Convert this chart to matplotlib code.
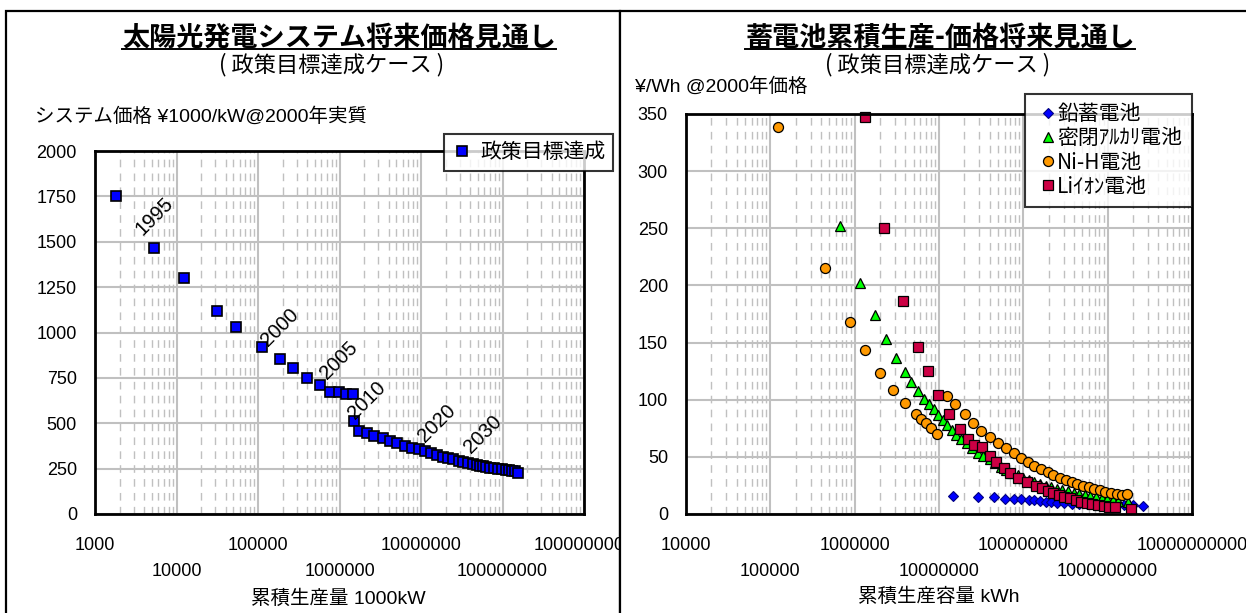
import numpy as np
import matplotlib
matplotlib.use("Agg")
import matplotlib.pyplot as plt
from matplotlib.patches import Rectangle
from matplotlib.lines import Line2D
from matplotlib.ticker import FixedLocator, LogLocator, NullFormatter, NullLocator

W, H = 1246, 613
LATIN = ['Liberation Sans', 'Noto Sans CJK JP']
JP = ['Noto Sans CJK JP', 'Liberation Sans']
plt.rcParams['font.family'] = LATIN

# ---- Photovoltaic system price outlook (policy target case) ----
pv_years = list(range(1994, 2041))
pv_cum = [1.80e3, 5.3e3, 1.23e4, 3.1e4, 5.4e4, 1.13e5, 1.85e5, 2.7e5, 4.0e5, 5.75e5,
          7.7e5, 9.9e5, 1.2e6, 1.45e6, 1.5e6, 1.75e6, 2.16e6, 2.65e6, 3.39e6, 4.17e6,
          5.12e6, 6.42e6, 7.76e6, 9.37e6, 1.13e7, 1.32e7, 1.56e7, 1.85e7, 2.13e7, 2.49e7,
          2.90e7, 3.30e7, 3.80e7, 4.31e7, 4.82e7, 5.30e7, 5.71e7, 6.28e7, 7.03e7, 7.87e7,
          8.81e7, 9.86e7, 1.09e8, 1.20e8, 1.31e8, 1.42e8, 1.56e8]
pv_price = [1750, 1467, 1300, 1120, 1032, 921, 853, 805, 752, 712,
            672, 670, 662, 662, 515, 459, 448, 429, 417, 404,
            389, 376, 365, 356, 345, 337, 326, 315, 308, 302,
            293, 287, 280, 274, 269, 265, 263, 259, 256, 253,
            250, 247, 244, 241, 238, 236, 226]
pv_label_years = [1995, 2000, 2005, 2010, 2020, 2030]

# ---- Battery cumulative production vs price ----
lead_x = [1.466e7, 2.88e7, 4.55e7, 6.0e7, 7.73e7, 9.48e7, 1.164e8, 1.356e8, 1.58e8, 1.84e8,
          2.14e8, 2.50e8, 3.06e8, 3.76e8, 4.60e8, 5.65e8, 6.93e8, 8.49e8, 1.04e9, 1.28e9,
          1.57e9, 2.02e9, 2.61e9]
lead_y = [15.7, 14.6, 14.6, 13.1, 13.1, 13.1, 12.2, 12.2, 11.4, 10.8,
          10.2, 9.6, 9.3, 9.0, 8.75, 8.5, 8.2, 7.9, 7.9, 7.6, 7.6, 7.6, 7.3]

alk_x = [6.74e5, 1.159e6, 1.742e6, 2.365e6, 3.11e6, 3.94e6, 4.69e6, 5.57e6, 6.70e6, 7.64e6,
         8.63e6, 9.75e6, 1.114e7, 1.233e7, 1.41e7, 1.59e7, 1.82e7, 2.12e7, 2.47e7, 2.88e7,
         3.35e7, 3.98e7, 4.65e7, 5.41e7, 6.31e7, 7.35e7, 8.57e7, 1.0e8, 1.164e8, 1.356e8,
         1.58e8, 1.84e8, 2.14e8, 2.50e8, 2.91e8, 3.39e8, 3.95e8, 4.60e8, 5.37e8, 6.25e8,
         7.29e8, 8.49e8, 9.89e8, 1.15e9, 1.34e9, 1.73e9]
alk_y = [252, 201.8, 174, 153.4, 136.8, 124.5, 115.2, 108, 100.6, 96.3,
         91.6, 86.6, 82.3, 77.9, 73.5, 69.1, 65.3, 61.8, 57.5, 53.7,
         50.8, 47.8, 44.3, 41.4, 38.5, 36.2, 33.8, 31.5, 29.7, 28,
         26.2, 24.8, 23.3, 22.2, 21, 19.8, 18.7, 17.8, 16.9, 16,
         15.2, 14.3, 13.4, 12.5, 11.7, 10.8]

nih_x = [1.227e5, 4.395e5, 8.79e5, 1.31e6, 2.01e6, 2.84e6, 3.90e6, 5.35e6, 6.17e6, 7.05e6,
         7.96e6, 9.57e6, 1.233e7, 1.545e7, 2.01e7, 2.52e7, 3.15e7, 3.98e7, 5.04e7, 6.30e7,
         7.73e7, 9.48e7, 1.14e8, 1.356e8, 1.63e8, 1.94e8, 2.26e8, 2.71e8, 3.22e8, 3.76e8,
         4.38e8, 5.10e8, 5.94e8, 6.93e8, 8.07e8, 9.40e8, 1.096e9, 1.277e9, 1.489e9, 1.70e9]
nih_y = [339, 215, 168, 143.5, 123.7, 108.5, 97.4, 87.5, 83, 79.3,
         75, 69.7, 103.5, 96, 87.5, 80, 73, 67, 62.4, 57.5,
         53.7, 49.3, 45.8, 42.3, 39.4, 36.5, 34, 31.8, 29.7, 28,
         26.2, 24.8, 23.3, 21.9, 20.7, 19.5, 18.7, 17.8, 16.6, 17.2]

li_x = [1.31e6, 2.25e6, 3.74e6, 5.62e6, 7.33e6, 9.75e6, 1.324e7, 1.762e7, 2.21e7, 2.60e7,
        3.25e7, 3.98e7, 4.79e7, 5.88e7, 6.92e7, 8.57e7, 1.096e8, 1.426e8, 1.66e8, 1.94e8,
        2.25e8, 2.63e8, 3.06e8, 3.57e8, 4.16e8, 4.85e8, 5.65e8, 6.58e8, 7.67e8, 8.93e8,
        1.04e9, 1.21e9, 1.88e9]
li_y = [347.7, 250, 186.4, 146.4, 125.4, 104, 87.5, 74, 65.3, 60.4,
        58.3, 51, 45.2, 40.5, 35.6, 31.8, 28, 24.8, 22.5, 20.4,
        18.1, 16.6, 15.2, 13.7, 12.3, 10.8, 9.9, 8.75, 7.9, 7.0,
        6.4, 5.8, 4.1]

pv_xticks = [1e3, 1e4, 1e5, 1e6, 1e7, 1e8, 1e9]
bat_xticks = [1e4, 1e5, 1e6, 1e7, 1e8, 1e9, 1e10]


def fx(x):
    return x / W


def fy(y):
    return 1 - y / H


def box(x0, y0, x1, y1):
    return [fx(x0), fy(y1), fx(x1) - fx(x0), fy(y0) - fy(y1)]


fig = plt.figure(figsize=(W / 100, H / 100), dpi=100)

# panel frames; the right one is opaque so it trims anything spilling over
fig.add_artist(Rectangle((fx(6), fy(700)), fx(620) - fx(6), fy(11) - fy(700),
                         transform=fig.transFigure, fill=False, ec='black', lw=1.6, zorder=1))
fig.add_artist(Rectangle((fx(620), fy(700)), fx(1260) - fx(620), fy(11) - fy(700),
                         transform=fig.transFigure, fc='white', ec='black', lw=1.6, zorder=1))

ROW1_PAD = 16.5            # points below the frame for the first label row
ROW2_PAD = ROW1_PAD + 19   # second, staggered row


def style_axes(ax, ticks, ymax, ystep):
    ax.set_xscale('log')
    ax.set_xlim(ticks[0], ticks[-1])
    ax.set_ylim(0, ymax)
    ax.set_yticks(np.arange(0, ymax + 1, ystep))
    ax.xaxis.set_major_locator(FixedLocator(ticks))
    ax.xaxis.set_minor_locator(LogLocator(base=10, subs=np.arange(2, 10), numticks=100))
    ax.xaxis.set_minor_formatter(NullFormatter())
    ax.set_xticklabels([f"{int(t):d}" if i % 2 == 0 else "" for i, t in enumerate(ticks)])
    ax.tick_params(axis='both', which='both', length=0, labelsize=13)
    ax.tick_params(axis='x', pad=ROW1_PAD)
    ax.tick_params(axis='y', pad=13)
    ax.grid(which='major', axis='both', color='#c0c0c0', lw=1.5)
    ax.grid(which='minor', axis='x', color='#c0c0c0', lw=1.0, ls=(0, (5.5, 4.5)))
    ax.set_axisbelow(True)
    for s in ax.spines.values():
        s.set_linewidth(2.0)
        s.set_color('black')
    # staggered second row of decade labels
    sec = ax.secondary_xaxis('bottom')
    sec.set_xticks(ticks[1::2])
    sec.set_xticklabels([f"{int(t):d}" for t in ticks[1::2]])
    sec.xaxis.set_minor_locator(NullLocator())
    sec.tick_params(axis='x', which='both', length=0, labelsize=13, pad=ROW2_PAD)
    sec.spines['bottom'].set_visible(False)


# ---- left chart ----
ax1 = fig.add_axes(box(95, 151, 584, 514), zorder=0)
style_axes(ax1, pv_xticks, 2000, 250)
ax1.plot(pv_cum, pv_price, ls='none', marker='s', ms=7.8, mfc='#0000ff', mec='black',
         mew=1.2, clip_on=False, label='政策目標達成')
for yr in pv_label_years:
    i = pv_years.index(yr)
    ax1.annotate(str(yr), (pv_cum[i], pv_price[i]), xytext=(0, 23), textcoords='offset points',
                 rotation=45, rotation_mode='anchor', ha='center', va='center', fontsize=14.5)
leg1 = ax1.legend(loc='upper left', bbox_to_anchor=(fx(444), fy(134)),
                  bbox_transform=fig.transFigure, frameon=True, fancybox=False,
                  edgecolor='black', borderaxespad=0, prop={'family': JP, 'size': 15},
                  handletextpad=0.31, borderpad=0.35, handlelength=1.07)
leg1.get_frame().set_linewidth(1.5)

# ---- right chart ----
ax2 = fig.add_axes(box(686, 114, 1192, 514), zorder=2)
style_axes(ax2, bat_xticks, 350, 50)
ax2.plot(lead_x, lead_y, ls='none', marker='D', ms=5.5, mfc='#0000ff', mec='#000080',
         mew=0.8, clip_on=False, label='鉛蓄電池')
ax2.plot(alk_x, alk_y, ls='none', marker='^', ms=7.0, mfc='#00ff00', mec='black',
         mew=0.9, clip_on=False, label='密閉ｱﾙｶﾘ電池')
ax2.plot(nih_x, nih_y, ls='none', marker='o', ms=7.2, mfc='#ff9900', mec='black',
         mew=0.9, clip_on=False, label='Ni-H電池')
ax2.plot(li_x, li_y, ls='none', marker='s', ms=6.8, mfc='#cc0044', mec='black',
         mew=0.9, clip_on=False, label='Liｲｵﾝ電池')
leg2 = ax2.legend(loc='upper left', bbox_to_anchor=(fx(1025), fy(94)),
                  bbox_transform=fig.transFigure, frameon=True, fancybox=False,
                  edgecolor='black', borderaxespad=0, prop={'family': JP, 'size': 15},
                  handletextpad=-0.2, borderpad=0.45, handlelength=1.3, labelspacing=0.1)
leg2.get_frame().set_linewidth(1.5)

# ---- headings and axis titles ----
t1 = fig.text(fx(339), fy(38), '太陽光発電システム将来価格見通し', ha='center', va='center',
              fontsize=19.5, fontweight='bold', family=JP, zorder=3)
fig.text(fx(332), fy(65), '( 政策目標達成ケース )', ha='center', va='center',
         fontsize=16, family=JP, zorder=3)
fig.text(fx(35), fy(116), 'システム価格 ¥1000/kW@2000年実質', ha='left', va='center',
         fontsize=14, zorder=3)
fig.text(fx(338), fy(599), '累積生産量 1000kW', ha='center', va='center', fontsize=14, zorder=3)

t2 = fig.text(fx(940), fy(38), '蓄電池累積生産-価格将来見通し', ha='center', va='center',
              fontsize=19.5, fontweight='bold', family=JP, zorder=3)
fig.text(fx(938), fy(65), '( 政策目標達成ケース )', ha='center', va='center',
         fontsize=16, family=JP, zorder=3)
fig.text(fx(635), fy(86), '¥/Wh @2000年価格', ha='left', va='center', fontsize=14, zorder=3)
fig.text(fx(939), fy(597), '累積生産容量 kWh', ha='center', va='center', fontsize=14, zorder=3)

# underline the two headings just beneath the glyphs
fig.canvas.draw()
renderer = fig.canvas.get_renderer()
inv = fig.transFigure.inverted()
for t in (t1, t2):
    bb = t.get_window_extent(renderer)
    (x0, y0), (x1, _) = inv.transform([(bb.x0, bb.y0 + 3.5), (bb.x1, bb.y0)])
    fig.add_artist(Line2D([x0, x1], [y0, y0], transform=fig.transFigure, color='black',
                          lw=1.4, zorder=3))

fig.savefig('out.png', dpi=100)
